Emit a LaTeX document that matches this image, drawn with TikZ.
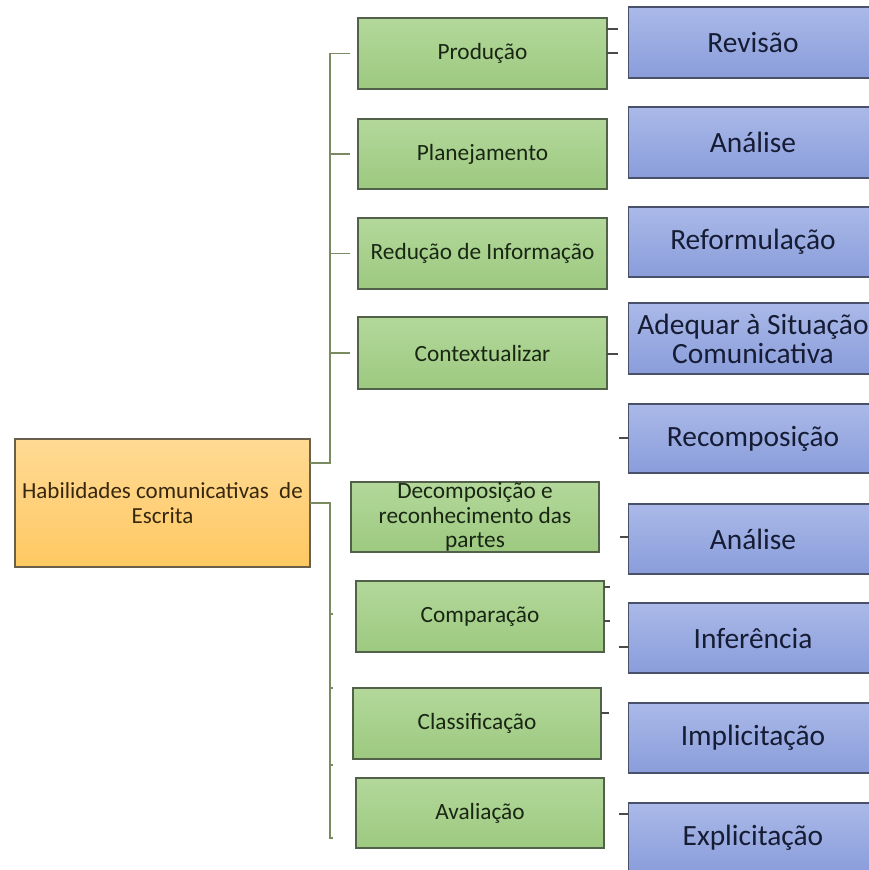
\documentclass[tikz,border=0pt]{standalone}
\usepackage{fontspec}
\setmainfont{Carlito}
\definecolor{gtop}{HTML}{B3D89A}
\definecolor{gbot}{HTML}{9DC980}
\definecolor{gline}{HTML}{52624A}
\definecolor{gtext}{HTML}{1A2614}
\definecolor{btop}{HTML}{AAB9E8}
\definecolor{bbot}{HTML}{8A9DDB}
\definecolor{bline}{HTML}{48506A}
\definecolor{btext}{HTML}{161C34}
\definecolor{otop}{HTML}{FFDA94}
\definecolor{obot}{HTML}{FFC862}
\definecolor{oline}{HTML}{6A5F4A}
\definecolor{otext}{HTML}{36270F}
\definecolor{linkc}{HTML}{7A8B62}
\definecolor{tickc}{HTML}{4A4A4A}
\tikzset{
  basebox/.style={line width=1.2pt, inner sep=0pt, outer sep=0pt, align=center},
  gbox/.style={basebox, draw=gline, top color=gtop, bottom color=gbot, text=gtext,
    font=\fontsize{23.3}{24.5}\selectfont, minimum width=249pt, minimum height=71pt},
  bbox/.style={basebox, draw=bline, top color=btop, bottom color=bbot, text=btext,
    font=\fontsize{29.4}{29}\selectfont, minimum width=249pt, minimum height=71pt},
  obox/.style={basebox, draw=oline, top color=otop, bottom color=obot, text=otext,
    font=\fontsize{23}{25}\selectfont, minimum width=295pt, minimum height=128pt},
  link/.style={draw=linkc, line width=1.1pt},
  tickln/.style={draw=tickc, line width=1.1pt}
}
\begin{document}
\begin{tikzpicture}[x=1pt,y=-1pt]
\useasboundingbox (0,0) rectangle (869,870);
\fill[white] (0,0) rectangle (869,870);
\clip (0,0) rectangle (869,870);

% root
\node[obox] (root) at (162.5,503) {Habilidades comunicativas~~de\\Escrita};

% green column
\node[gbox] (p1) at (482.5,53.5) {Produção};
\node[gbox, minimum height=70pt] (p2) at (482.5,154) {Planejamento};
\node[gbox] (p3) at (482.5,253.5) {Redução de~Informação};
\node[gbox, minimum height=72pt] (p4) at (482.5,353) {Contextualizar};
\node[gbox, minimum width=248pt, minimum height=70pt] (p5) at (475,517) {Decomposição e\\reconhecimento das\\partes};
\node[gbox, minimum width=248pt] (p6) at (480,616.5) {Comparação};
\node[gbox, minimum width=248pt] (p7) at (477,723.5) {Classificação};
\node[gbox, minimum width=248pt, minimum height=70pt] (p8) at (480,813) {Avaliação};

% blue column
\node[bbox] (b1) at (753,42.5) {Revisão};
\node[bbox] (b2) at (753,142.5) {Análise};
\node[bbox, minimum height=70pt] (b3) at (753,242) {Reformulação};
\node[bbox] (b4) at (753,338.5) {Adequar à Situação\\Comunicativa};
\node[bbox, minimum height=69pt] (b5) at (753,438.5) {Recomposição};
\node[bbox, minimum height=70pt] (b6) at (753,539) {Análise};
\node[bbox, minimum height=70pt] (b7) at (753,638) {Inferência};
\node[bbox, minimum height=70pt] (b8) at (753,738) {Implicitação};
\node[bbox, minimum height=70pt] (b9) at (753,838) {Explicitação};

% bracket coordinates
\coordinate (ua) at (310,463);
\coordinate (ub) at (330,463);
\coordinate (la) at (310,503);
\coordinate (lb) at (330,503);
\coordinate (lc) at (330,838);
\coordinate (ld) at (333,838);

% upper bracket
\draw[link] (root.east |- ua) -- (ub) |- ([xshift=-8pt]p1.west);
\draw[link] (ub |- p2.west) -- ([xshift=-8pt]p2.west);
\draw[link] (ub |- p3.west) -- ([xshift=-8pt]p3.west);
\draw[link] (ub |- p4.west) -- ([xshift=-8pt]p4.west);

% lower bracket
\draw[link] (root.east |- la) -- (lb) -- (lc) -- (ld);
\coordinate (t1) at (330,614);
\coordinate (t2) at (330,688);
\coordinate (t3) at (330,765);
\draw[link] (t1) -- ++(3,0);
\draw[link] (t2) -- ++(3,0);
\draw[link] (t3) -- ++(3,0);

% small ticks on the right
\coordinate (r1) at (607,29);
\coordinate (r2) at (607,53);
\coordinate (r3) at (607,354);
\coordinate (r4) at (604,587);
\coordinate (r5) at (604,621);
\coordinate (r6) at (601,713);
\draw[tickln] (p1.east |- r1) -- ++(11,0);
\draw[tickln] (p1.east |- r2) -- ++(11,0);
\draw[tickln] (p4.east |- r3) -- ++(11,0);
\draw[tickln] (p6.east |- r4) -- ++(6,0);
\draw[tickln] (p6.east |- r5) -- ++(6,0);
\draw[tickln] (p7.east |- r6) -- ++(8,0);

\coordinate (s1) at (628.5,438);
\coordinate (s2) at (628.5,537);
\coordinate (s3) at (628.5,647);
\coordinate (s4) at (628.5,814);
\draw[tickln] (b5.west |- s1) -- ++(-10,0);
\draw[tickln] (b6.west |- s2) -- ++(-9,0);
\draw[tickln] (b7.west |- s3) -- ++(-10,0);
\draw[tickln] (b9.west |- s4) -- ++(-10,0);
\end{tikzpicture}
\end{document}
